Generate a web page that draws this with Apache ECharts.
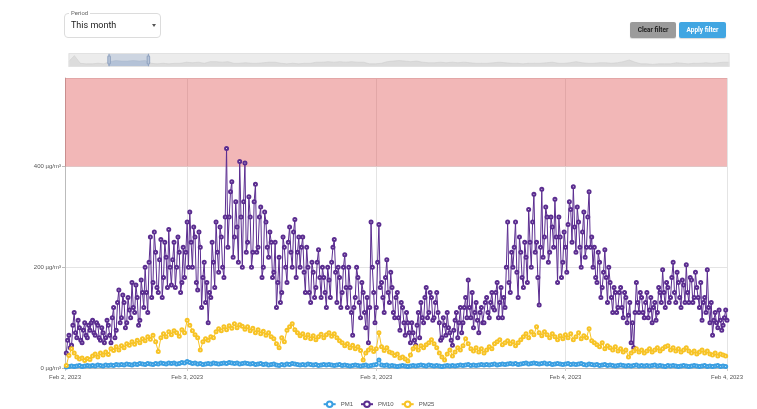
<!DOCTYPE html>
<html>
<head>
<meta charset="utf-8">
<script src="https://cdn.jsdelivr.net/npm/echarts@6/dist/echarts.min.js"></script>
<style>
  html, body { margin: 0; padding: 0; background: #fff; font-family: Roboto, "Liberation Sans", Arial, sans-serif; }
  #wrap { position: relative; width: 757px; height: 409px; }
  #chart { position: absolute; left: 0; top: 0; width: 757px; height: 409px; }
  .period { position: absolute; left: 64px; top: 13px; width: 95px; height: 23px; border: 1px solid #dcdcdc; border-radius: 4px; }
  .period .lbl { position: absolute; left: 4px; top: -5px; padding: 0 2px; background: #fff; font-size: 6px; color: #666; line-height: 8px; }
  .period .val { position: absolute; left: 6px; top: 6px; font-size: 9px; color: #222; line-height: 11px; }
  .period .arrow { position: absolute; left: 87px; top: 10px; width: 0; height: 0; border-left: 2.5px solid transparent; border-right: 2.5px solid transparent; border-top: 3px solid #555; }
  .btn { position: absolute; top: 22px; height: 16px; line-height: 16px; border-radius: 2px; font-size: 6.5px; font-weight: bold; text-align: center; box-shadow: 0 1px 1px rgba(0,0,0,0.15); }
  .clear { left: 630px; width: 46px; background: #9b9b9b; color: #222; }
  .apply { left: 679px; width: 47px; background: #41a6e2; color: #fff; }
</style>
</head>
<body>
<div id="wrap">
  <div id="chart"></div>
  <div class="period"><span class="lbl">Period</span><span class="val">This month</span><span class="arrow"></span></div>
  <div class="btn clear">Clear filter</div>
  <div class="btn apply">Apply filter</div>
</div>
<script>
// measurements every 10 minutes inside the visible window (PM10 also has readings in between)
const seriesStart = Date.UTC(2023, 1, 2, 16, 20);
const stepMs = 10 * 60 * 1000;
const windowStart = Date.UTC(2023, 1, 2, 16, 15);
const windowEnd = Date.UTC(2023, 1, 4, 10, 15);

const pm10 = [
  30,65,45,110,60,80,50,90,60,75,
  95,65,85,55,70,60,85,50,120,75,
  155,100,130,90,115,170,110,140,95,150,
  200,110,260,170,230,150,255,180,220,275,
  165,250,200,230,170,180,290,310,200,260,
  155,240,180,130,90,140,210,290,190,260,
  180,436,300,370,260,280,410,200,407,250,
  300,230,365,240,320,200,290,220,250,190,
  120,220,150,240,170,280,200,295,230,200,
  260,150,200,130,190,160,235,140,180,120,
  175,210,255,130,180,150,225,120,160,65,
  140,180,100,150,80,50,290,150,120,285,
  170,110,215,130,160,100,150,75,120,65,
  90,50,70,45,110,130,90,160,110,140,
  100,150,90,60,85,110,70,45,95,60,
  120,90,140,175,100,80,130,70,120,90,
  140,100,150,115,170,130,100,120,290,150,
  200,290,140,230,160,220,315,200,345,250,
  125,355,260,300,230,280,335,170,260,210,
  240,285,315,360,230,290,200,310,240,350,
  260,240,170,210,160,235,130,170,110,150,
  120,160,100,140,105,50,40,170,110,140,
  100,150,115,90,130,110,150,195,120,160,
  140,210,130,170,120,165,205,130,175,140,
  160,120,95,140,195,90,65,110,80,95,
  85,115
];

// PM10 readings taken 5 minutes after each of the above
const pm10Mid = [
  55,40,85,70,95,55,75,65,85,90,
  70,90,60,80,50,95,65,100,60,130,
  90,145,80,140,100,120,165,85,175,120,
  150,210,140,270,160,215,140,250,160,200,
  215,160,260,150,240,230,200,250,280,170,
  270,120,210,170,150,250,160,230,280,200,
  300,240,350,220,330,210,300,330,230,340,
  200,330,230,300,180,310,240,270,180,250,
  170,130,260,200,250,230,270,180,260,240,
  190,240,150,210,140,210,180,200,150,200,
  140,240,190,200,120,200,160,200,110,120,
  200,130,170,110,140,120,200,90,210,160,
  140,180,150,190,110,140,100,130,90,110,
  70,90,55,85,60,100,140,100,150,95,
  130,110,55,100,65,80,55,75,110,90,
  70,120,100,120,150,110,95,110,90,130,
  110,130,120,150,100,160,140,200,170,230,
  240,190,260,180,250,170,250,290,230,180,
  240,220,320,210,300,240,260,300,180,270,
  190,330,250,280,320,240,270,220,300,240,
  200,180,230,140,190,180,200,140,160,110,
  150,120,150,90,130,90,110,130,150,110,
  130,100,140,120,95,160,130,150,170,130,
  180,150,190,140,175,130,150,180,130,190,
  140,170,130,110,120,130,95,90,115,75,
  100,95
];

const pm25 = [
  5,25,38,30,22,18,20,15,19,17,
  24,28,22,30,26,32,27,38,35,42,
  36,44,40,48,45,52,47,55,50,58,
  54,62,57,65,52,33,60,68,62,72,
  66,74,70,63,76,70,95,85,74,66,
  60,36,52,58,55,62,60,72,78,74,
  82,76,84,79,88,80,86,83,77,82,
  74,79,70,76,68,73,65,70,62,58,
  48,40,60,52,75,82,88,76,70,64,
  68,60,66,58,64,56,62,67,60,66,
  70,63,68,60,54,50,44,48,40,45,
  38,42,35,16,30,36,40,33,38,70,
  42,35,40,32,30,25,28,20,22,18,
  14,26,38,42,36,44,40,46,50,56,
  48,40,30,22,16,28,36,24,32,40,
  36,44,58,48,38,34,40,32,38,30,
  36,42,38,48,52,56,46,50,54,48,
  52,44,50,56,62,68,60,72,66,82,
  70,64,72,66,60,68,62,56,64,58,
  66,60,68,56,62,70,58,64,60,78,
  54,50,46,42,50,38,44,40,36,42,
  34,38,32,36,22,30,34,38,32,36,
  30,34,38,32,36,40,34,38,42,44,
  36,40,34,38,32,36,40,34,30,34,
  28,32,36,30,34,28,26,30,24,28,
  26,24
];

const pm1 = [
  2,3,4,3,4,5,3,4,5,4,
  5,4,6,5,4,6,5,6,5,7,
  6,7,6,8,7,6,8,7,9,8,
  7,9,8,7,9,8,10,9,8,10,
  9,10,8,9,11,10,13,11,9,10,
  8,9,7,8,9,8,10,9,8,9,
  10,9,11,10,9,10,8,9,10,9,
  8,9,7,8,9,7,8,6,7,8,
  6,5,7,6,8,7,9,8,7,6,
  7,6,8,7,6,7,5,6,7,6,
  7,6,5,6,7,5,6,5,4,5,
  6,5,4,5,6,4,5,6,7,16,
  6,5,6,4,5,4,3,4,5,4,
  3,4,5,4,5,6,5,4,6,5,
  4,5,4,3,4,5,4,5,4,5,
  6,5,6,7,5,6,5,6,7,6,
  7,6,7,8,6,7,8,7,8,9,
  8,9,7,8,9,10,8,9,10,9,
  8,9,10,8,9,7,8,9,8,7,
  8,9,7,8,7,8,9,7,6,8,
  7,6,7,5,6,7,5,6,5,4,
  5,6,5,4,5,4,5,6,4,5,
  4,5,4,5,6,4,5,4,3,5,
  4,5,4,3,4,5,4,3,4,5,
  4,3,4,5,3,4,3,4,5,3,
  4,3
];

// whole-month overview (every 6 hours) used for the slider's shadow
const monthStart = Date.UTC(2023, 1, 1);
const monthStepMs = 6 * 3600 * 1000;
const monthOverview = [
  7,18,4,3,3,4,3,7,9,8,
  8,9,8,9,4,3,4,3,4,4,
  6,5,6,4,7,7,6,7,4,4,
  5,4,4,5,6,6,4,3,4,3,
  4,4,6,6,7,6,7,6,7,6,
  6,3,3,4,7,8,9,8,7,8,
  6,5,5,6,5,6,5,6,5,4,
  4,4,5,6,5,4,4,3,4,4,
  4,5,6,4,4,5,7,5,4,4,
  5,5,4,5,7,10,6,3,3,2,
  3,3,3,5,4,3,4,4,5,4,
  5,6,6
];

const legendNames = ['PM1', 'PM10', 'PM25'];
const yTicks = [0, 200, 400];
const yMax = 576;
const limit = 400;

const withTime = (values, start, step) => values.map((v, i) => [start + i * step, v]);

// merge the on-step and in-between PM10 readings in time order
const pm10Points = [];
pm10.forEach((v, i) => {
  const t = seriesStart + i * stepMs;
  pm10Points.push([t, v]);
  pm10Points.push([t + stepMs / 2, pm10Mid[i]]);
});

const chart = echarts.init(document.getElementById('chart'));

const lineSeries = (name, points, color) => ({
  name: name,
  type: 'line',
  data: points,
  symbol: 'emptyCircle',
  symbolSize: 3,
  showSymbol: true,
  lineStyle: { width: 1, color: color },
  itemStyle: { color: color, borderWidth: 0.6 },
  animation: false
});

const option = {
  useUTC: true,
  animation: false,
  legend: {
    data: legendNames,
    bottom: 1,
    padding: 0,
    itemWidth: 12,
    itemHeight: 7,
    itemGap: 7,
    textStyle: { fontSize: 6, color: '#555' }
  },
  grid: { left: 65, right: 30, top: 78, bottom: 41 },
  dataZoom: [{
    type: 'slider',
    xAxisIndex: 0,
    startValue: windowStart,
    endValue: windowEnd,
    left: 66,
    right: 30,
    top: 53,
    height: 14,
    showDetail: false,
    brushSelect: false,
    moveHandleSize: 0,
    backgroundColor: '#ececec',
    borderColor: '#e2e2e2',
    fillerColor: 'rgba(150,172,205,0.35)',
    handleSize: '90%',
    handleStyle: { color: '#b7c4d8', borderColor: '#8fa2bf' },
    dataBackground: {
      lineStyle: { color: '#cacaca', width: 0.5 },
      areaStyle: { color: '#dcdcdc', opacity: 1 }
    },
    selectedDataBackground: {
      lineStyle: { color: '#b3bccb', width: 0.5 },
      areaStyle: { color: '#c5cedc', opacity: 1 }
    }
  }],
  xAxis: {
    type: 'time',
    splitNumber: 3,
    axisLine: { show: true, lineStyle: { color: '#bbb' } },
    axisTick: { show: true, length: 3, lineStyle: { color: '#ccc' } },
    splitLine: { show: true, lineStyle: { color: '#e4e4e4' } },
    axisLabel: {
      formatter: '{MMM} {d}, {yyyy}',
      fontSize: 6,
      color: '#555',
      margin: 6,
      showMinLabel: true,
      showMaxLabel: true,
      hideOverlap: false
    }
  },
  yAxis: {
    type: 'value',
    min: yTicks[0],
    max: yMax,
    interval: yTicks[1] - yTicks[0],
    axisLine: { show: true, lineStyle: { color: '#bbb' } },
    axisTick: { show: true, length: 3, lineStyle: { color: '#bbb' } },
    splitLine: { show: true, lineStyle: { color: '#e4e4e4' } },
    axisLabel: {
      formatter: '{value} µg/m³',
      fontSize: 6,
      color: '#555',
      margin: 4,
      showMaxLabel: false
    }
  },
  series: [
    {
      name: 'overview',
      type: 'line',
      data: withTime(monthOverview, monthStart, monthStepMs),
      showSymbol: false,
      symbol: 'none',
      lineStyle: { opacity: 0, width: 0 },
      silent: true,
      z: 0
    },
    lineSeries('PM1', withTime(pm1, seriesStart, stepMs), '#3a9fe2'),
    lineSeries('PM10', pm10Points, '#5b2d90'),
    Object.assign(lineSeries('PM25', withTime(pm25, seriesStart, stepMs), '#f7c325'), {
      markArea: {
        silent: true,
        itemStyle: { color: 'rgba(222,75,75,0.4)' },
        data: [[{ yAxis: limit }, { yAxis: yMax }]]
      }
    })
  ]
};

chart.setOption(option);
</script>
</body>
</html>
